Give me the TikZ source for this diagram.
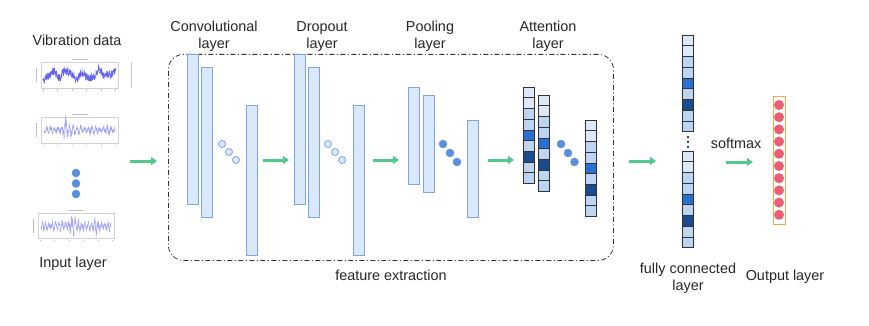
\documentclass[tikz,border=0pt]{standalone}
\usepackage{fontspec}
\setmainfont{Liberation Sans}
\usetikzlibrary{arrows.meta}
\definecolor{barfill}{HTML}{DAE8FC}
\definecolor{bardraw}{HTML}{7EA6E0}
\definecolor{dotblue}{HTML}{5B8FDB}
\definecolor{arrowgreen}{HTML}{52C88C}
\definecolor{cvl}{HTML}{DDE8F8}
\definecolor{cml}{HTML}{BDD4F2}
\definecolor{cbl}{HTML}{2A6FD2}
\definecolor{cdk}{HTML}{1A4B8E}
\definecolor{outor}{HTML}{F6A54E}
\definecolor{pinkdot}{HTML}{EA5F74}
\definecolor{sigA}{HTML}{6464F0}
\definecolor{sigB}{HTML}{A4A4F6}
\definecolor{sigC}{HTML}{A8A8F8}
\begin{document}
\begin{tikzpicture}[x=1pt,y=-1pt,
  lbl/.style={font=\fontsize{14.4}{17}\selectfont, text=black!85, align=center, inner sep=0pt},
  lbar/.style={draw=bardraw, fill=barfill, line width=0.8pt, inner sep=0pt, outer sep=0pt, minimum width=11pt, anchor=north west},
  cell/.style={draw=black!80, line width=0.6pt, inner sep=0pt, outer sep=0pt, minimum width=11pt, minimum height=10.7pt, anchor=north west},
  hollowdot/.style={circle, draw=bardraw, fill=barfill, line width=0.8pt, inner sep=0pt, minimum size=7pt},
  fulldot/.style={circle, draw=dotblue, fill=dotblue, inner sep=0pt, minimum size=8pt},
  pinkcirc/.style={circle, fill=pinkdot, inner sep=0pt, minimum size=10pt},
  garrow/.style={draw=arrowgreen, line width=3pt, -{Triangle[length=6pt,width=8pt]}},
  frame/.style={draw=gray!35, line width=0.4pt},
  tick/.style={draw=gray!50, line width=0.4pt},
  featbox/.style={draw=black!80, line width=0.8pt, rounded corners=15pt, dash pattern=on 5pt off 2.5pt on 1pt off 2.5pt}
]
\useasboundingbox (0,0) rectangle (869,326);
\pgfmathsetseed{11}

% ---------- input layer ----------
\node[lbl] (vib) at (77,40) {Vibration data};
\node[lbl] (inl) at (73,264) {Input layer};

% plot 1
\draw[frame] (41,62) rectangle (118,88);
\draw[tick] (72,59.5) -- (88,59.5);
\draw[tick] (36,68) -- (36,82);
\foreach \t in {0,1,2,3,4,5} \draw[tick] ({43+\t*14.5},89.5) -- ({43+\t*14.5},91);
\draw[gray!40, line width=0.5pt] (131,62) -- (131,88);
\draw[sigA, line width=0.45pt] plot[domain=3:76, samples=420] ({\x+40}, {75 + 3*sin(\x*23) + 2*sin(\x*9+60) + 1.5*sin(\x*41+20) + 4*rand});

% plot 2
\draw[frame] (41,117) rectangle (118,143);
\draw[tick] (72,114.5) -- (88,114.5);
\draw[tick] (36,123) -- (36,137);
\foreach \t in {0,1,2,3,4,5} \draw[tick] ({43+\t*14.5},144.5) -- ({43+\t*14.5},146);
\draw[sigB, line width=0.45pt] plot[domain=4:75, samples=380] ({\x+40}, {130 + (2.8 + 12*exp(-pow(min(abs(\x-26)/2.4,4),2)) + 6*exp(-pow(min(abs(\x-31.5)/2,4),2)) + 2*abs(sin(\x*12)))*(0.55*sin(\x*95)+0.6*rand)});

% dots
\node[fulldot] (d1) at (76,173) {};
\node[fulldot] (d2) at (76,183.5) {};
\node[fulldot] (d3) at (76,194) {};

% plot 3
\draw[frame] (38,213) rectangle (114,238);
\draw[tick] (68,210.5) -- (84,210.5);
\draw[tick] (33,219) -- (33,233);
\foreach \t in {0,1,2,3,4,5} \draw[tick] ({40+\t*14.5},239.5) -- ({40+\t*14.5},241);
\draw[sigC, line width=0.45pt] plot[domain=1:71, samples=380] ({\x+40}, {226 + (4 + 6*exp(-pow(min(abs(\x-34)/5,4),2)) + 6.5*exp(-pow(min(abs(\x-56)/2,4),2)) + 2*abs(sin(\x*20)))*(0.5*sin(\x*110)+0.6*rand)});

% ---------- feature extraction box ----------
\node[featbox, minimum width=445pt, minimum height=206pt, anchor=north west, inner sep=0pt] (feat) at (168,54) {};
\node[lbl] (featlbl) at (391,275) {feature extraction};

% arrow input -> conv
\coordinate (a1s) at (130,161); \coordinate (a1e) at (157,161);
\draw[garrow] (a1s) -- (a1e);

% ---------- convolutional layer ----------
\node[lbl] (convlbl) at (214,36.5) {Convolutional\\layer};
\node[lbar, minimum height=150pt] (c1) at (187,54) {};
\node[lbar, minimum height=150pt] (c2) at (201.5,67) {};
\node[hollowdot] (ch1) at (222,144) {};
\node[hollowdot] (ch2) at (229,152) {};
\node[hollowdot] (ch3) at (236,160) {};
\node[lbar, minimum height=150pt] (c3) at (246,105) {};

\coordinate (a2s) at (263,160); \coordinate (a2e) at (289,160);
\draw[garrow] (a2s) -- (a2e);

% ---------- dropout layer ----------
\node[lbl] (droplbl) at (322,36.5) {Dropout\\layer};
\node[lbar, minimum height=150pt] (dr1) at (294,54) {};
\node[lbar, minimum height=150pt] (dr2) at (308,67) {};
\node[hollowdot] (dh1) at (328,144) {};
\node[hollowdot] (dh2) at (335,152) {};
\node[hollowdot] (dh3) at (342,160) {};
\node[lbar, minimum height=150pt] (dr3) at (353,105) {};

\coordinate (a3s) at (373,160); \coordinate (a3e) at (399,160);
\draw[garrow] (a3s) -- (a3e);

% ---------- pooling layer ----------
\node[lbl] (poollbl) at (430,36.5) {Pooling\\layer};
\node[lbar, minimum height=97pt] (p1) at (408,87) {};
\node[lbar, minimum height=97pt] (p2) at (423,95) {};
\node[fulldot] (pd1) at (443,144) {};
\node[fulldot] (pd2) at (450,153) {};
\node[fulldot] (pd3) at (457,162) {};
\node[lbar, minimum height=97pt] (p3) at (467.5,120) {};

\coordinate (a4s) at (488,160); \coordinate (a4e) at (514,160);
\draw[garrow] (a4s) -- (a4e);

% ---------- attention layer ----------
\node[lbl] (attlbl) at (548,36.5) {Attention\\layer};
\foreach \c [count=\i from 0] in {cvl,cvl,cml,cml,cbl,cml,cdk,cml,cml} {
  \node[cell, fill=\c] (at1-\i) at (523, 87+\i*10.7) {};
  \node[cell, fill=\c] (at2-\i) at (538.5, 95+\i*10.7) {};
  \node[cell, fill=\c] (at3-\i) at (585, 120+\i*10.7) {};
}
\node[fulldot] (ad1) at (561,144) {};
\node[fulldot] (ad2) at (568,153) {};
\node[fulldot] (ad3) at (574.5,162) {};

\coordinate (a5s) at (629,161); \coordinate (a5e) at (656,161);
\draw[garrow] (a5s) -- (a5e);

% ---------- fully connected layer ----------
\foreach \c [count=\i from 0] in {cvl,cvl,cml,cml,cbl,cml,cdk,cml,cml} {
  \node[cell, fill=\c] (fa-\i) at (682.5, 35+\i*10.75) {};
  \node[cell, fill=\c] (fb-\i) at (682.5, 151+\i*10.75) {};
}
\node[circle, fill=black, inner sep=0pt, minimum size=2.4pt] (fd1) at (688,137) {};
\node[circle, fill=black, inner sep=0pt, minimum size=2.4pt] (fd2) at (688,142) {};
\node[circle, fill=black, inner sep=0pt, minimum size=2.4pt] (fd3) at (688,147) {};
\node[lbl] (fclbl) at (688,278) {fully connected\\layer};

% softmax arrow
\node[lbl] (smlbl) at (736,143) {softmax};
\coordinate (a6s) at (726,162); \coordinate (a6e) at (753,162);
\draw[garrow] (a6s) -- (a6e);

% ---------- output layer ----------
\node[draw=outor, line width=0.8pt, fill=white, inner sep=0pt, minimum width=12pt, minimum height=128pt, anchor=north west] (outbox) at (773,96) {};
\foreach \i in {0,...,9} \node[pinkcirc] (o\i) at (779, 105+\i*12.2) {};
\node[lbl] (outlbl) at (785,277) {Output layer};
\end{tikzpicture}
\end{document}
